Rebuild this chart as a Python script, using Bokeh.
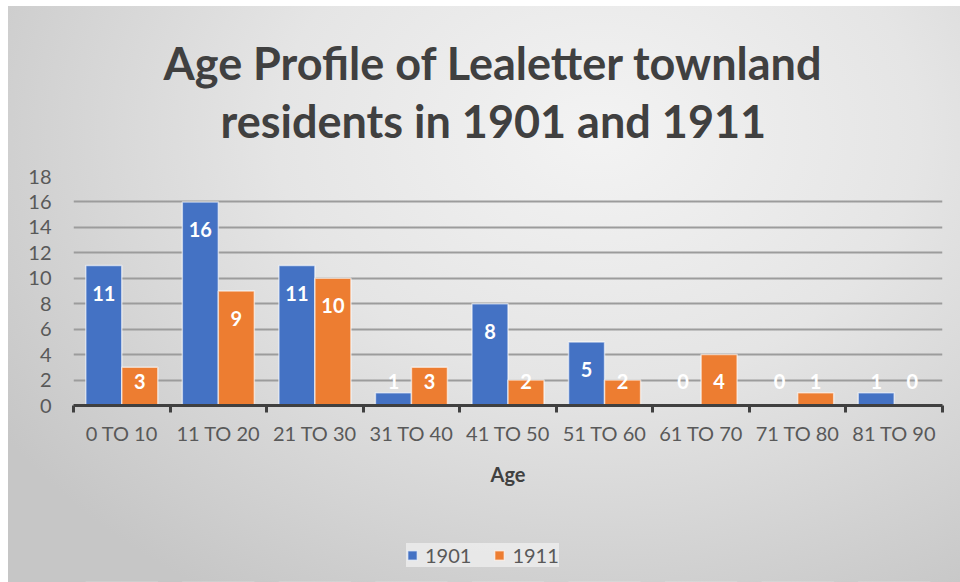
from bokeh.plotting import figure
from bokeh.layouts import column
from bokeh.models import (Range1d, LinearAxis, FixedTicker, Label,
                          Legend, LegendItem, ColumnDataSource)
from bokeh.transform import dodge
from bokeh.core.properties import value
from bokeh.embed import file_html
from bokeh.resources import INLINE

categories = ["0 TO 10", "11 TO 20", "21 TO 30", "31 TO 40", "41 TO 50",
              "51 TO 60", "61 TO 70", "71 TO 80", "81 TO 90"]
y1901 = [11, 16, 11, 1, 8, 5, 0, 0, 1]
y1911 = [3, 9, 10, 3, 2, 2, 4, 1, 0]
series_names = ["1901", "1911"]
y_ticks = [0, 2, 4, 6, 8, 10, 12, 14, 16, 18]
title_lines = ["Age Profile of Lealetter townland", "residents in 1901 and 1911"]
x_title = "Age"

FONT = "Lato"
BLUE = "#4472C4"
ORANGE = "#ED7D31"
W = 952

n = len(categories)
centers = [i + 0.5 for i in range(n)]
bounds = list(range(n + 1))

# label positions: inside end of bar, kept above the axis for short bars
lab1901 = [max(v - 2.17, 1.88) for v in y1901]
lab1911 = [max(v - 2.17, 1.88) for v in y1911]

src = ColumnDataSource(dict(x=centers, a=y1901, b=y1911,
                            la=lab1901, lb=lab1911,
                            ta=[str(v) for v in y1901], tb=[str(v) for v in y1911]))


def bare(fig):
    fig.border_fill_alpha = 0
    fig.background_fill_alpha = 0
    fig.outline_line_color = None
    return fig


# ---- title block ----
TH = 158
pt = bare(figure(width=W, height=TH, output_backend="svg", toolbar_location=None,
                 x_range=Range1d(0, W), y_range=Range1d(0, TH),
                 x_axis_location=None, y_axis_location=None,
                 min_border=0, min_border_left=0, min_border_right=0,
                 min_border_top=0, min_border_bottom=0))
pt.grid.visible = False
for line, yc in zip(title_lines, [TH - 56, TH - 114]):
    pt.add_layout(Label(x=460, y=yc, text=line, text_font=FONT, text_font_size="45px",
                        text_font_style="bold", text_color="#404040",
                        text_align="center", text_baseline="middle"))

# ---- main chart ----
p = bare(figure(frame_width=869, frame_height=229, output_backend="svg", toolbar_location=None,
                x_range=Range1d(0, n), y_range=Range1d(0, 18),
                x_axis_location=None, y_axis_location="left",
                min_border_left=65, min_border_right=18, min_border_top=12, min_border_bottom=100))

bw = 0.373
p.vbar(x=dodge("x", -bw / 2), top="a", width=bw, source=src,
       fill_color=BLUE, line_color="white", line_alpha=0.6, line_width=1.5)
p.vbar(x=dodge("x", bw / 2), top="b", width=bw, source=src,
       fill_color=ORANGE, line_color="white", line_alpha=0.6, line_width=1.5)

p.text(x=dodge("x", -bw / 2), y="la", text="ta", source=src,
       text_color="white", text_font=value(FONT), text_font_style="bold",
       text_font_size="20px", text_align="center", text_baseline="middle")
p.text(x=dodge("x", bw / 2), y="lb", text="tb", source=src,
       text_color="white", text_font=value(FONT), text_font_style="bold",
       text_font_size="20px", text_align="center", text_baseline="middle")

ya = p.yaxis[0]
ya.ticker = FixedTicker(ticks=y_ticks)
ya.axis_line_color = None
ya.major_tick_line_color = None
ya.minor_tick_line_color = None
ya.major_label_text_font = FONT
ya.major_label_text_font_size = "20px"
ya.major_label_text_color = "#595959"
ya.major_label_standoff = 16

p.xgrid.grid_line_color = None
p.ygrid.ticker = FixedTicker(ticks=y_ticks)
p.ygrid.grid_line_color = "#9c9c9c"
p.ygrid.grid_line_width = 1.8

# x axis: ticks at category boundaries
tick_axis = LinearAxis(ticker=FixedTicker(ticks=bounds),
                       major_label_overrides={b: "" for b in bounds},
                       axis_line_color="#404040", axis_line_width=3,
                       major_tick_line_color="#404040", major_tick_line_width=3,
                       major_tick_in=0, major_tick_out=7, minor_tick_line_color=None,
                       major_label_standoff=0)
p.add_layout(tick_axis, "below")

# x axis: category labels at category centres
cat_axis = LinearAxis(ticker=FixedTicker(ticks=centers),
                      major_label_overrides={c: lab for c, lab in zip(centers, categories)},
                      axis_line_color=None, major_tick_line_color=None,
                      minor_tick_line_color=None,
                      major_label_text_font=FONT, major_label_text_font_size="20px",
                      major_label_text_color="#595959", major_label_standoff=2,
                      axis_label=x_title, axis_label_text_font=FONT,
                      axis_label_text_font_size="20px", axis_label_text_font_style="bold",
                      axis_label_text_color="#404040", axis_label_standoff=14)
p.add_layout(cat_axis, "below")

# ---- legend block ----
LH = 77
pl = bare(figure(width=W, height=LH, output_backend="svg", toolbar_location=None,
                 x_range=Range1d(0, n), y_range=Range1d(100, 101),
                 x_axis_location=None, y_axis_location=None,
                 min_border=0, min_border_left=0, min_border_right=0,
                 min_border_top=0, min_border_bottom=0))
pl.grid.visible = False
l1 = pl.vbar(x=dodge("x", -bw / 2), top="a", width=bw, source=src,
             fill_color=BLUE, line_color="white", line_alpha=0.6, line_width=1.5)
l2 = pl.vbar(x=dodge("x", bw / 2), top="b", width=bw, source=src,
             fill_color=ORANGE, line_color="white", line_alpha=0.6, line_width=1.5)
legend = Legend(items=[LegendItem(label=series_names[0], renderers=[l1]),
                       LegendItem(label=series_names[1], renderers=[l2])],
                orientation="horizontal", location=(333, 15),
                background_fill_color="#ececec", background_fill_alpha=0.85,
                border_line_color=None, padding=15, spacing=22, label_standoff=7,
                glyph_width=12, glyph_height=12, margin=0,
                label_text_font=FONT, label_text_font_size="20px", label_text_color="#595959")
pl.add_layout(legend, "center")

layout = column(pt, p, pl, spacing=0,
                styles={"background": "radial-gradient(ellipse 75% 95% at 62% 22%, #f3f3f3 0%, #e5e5e5 45%, #c6c6c6 100%)",
                        "margin-left": "8px", "margin-top": "6px"})

open("out.html", "w").write(file_html(layout, INLINE))
